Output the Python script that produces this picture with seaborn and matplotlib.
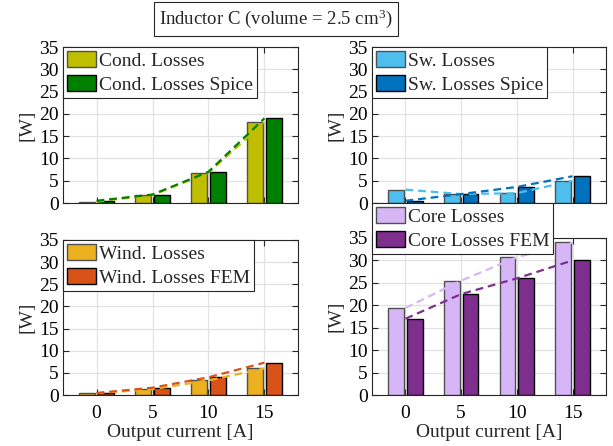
import numpy as np
import pandas as pd
import matplotlib
matplotlib.use("Agg")
import matplotlib.pyplot as plt
import seaborn as sns
from matplotlib.patches import Patch

# ---------------- data ----------------
currents = [0, 5, 10, 15]
xticks = [0, 5, 10, 15]
yticks = [0, 5, 10, 15, 20, 25, 30, 35]

cond_names = ["Cond. Losses", "Cond. Losses Spice"]
cond = [0.3, 1.8, 6.8, 18.1]
cond_spice = [0.5, 1.9, 7.0, 19.0]

sw_names = ["Sw. Losses", "Sw. Losses Spice"]
sw = [3.0, 2.0, 2.2, 5.0]
sw_spice = [0.5, 2.0, 3.6, 6.0]

wind_names = ["Wind. Losses", "Wind. Losses FEM"]
wind = [0.4, 1.3, 3.3, 6.0]
wind_fem = [0.45, 1.65, 4.0, 7.3]

core_names = ["Core Losses", "Core Losses FEM"]
core = [19.4, 25.5, 30.7, 34.0]
core_fem = [17.0, 22.5, 26.0, 30.0]

title_text = "Inductor C (volume = 2.5 cm$^{3}$)"
ylabel_text = "[W]"
xlabel_text = "Output current [A]"

# ---------------- style ----------------
sns.set_style("ticks")
plt.rcParams["font.family"] = ["Liberation Serif", "DejaVu Serif"]
plt.rcParams["mathtext.fontset"] = "custom"
plt.rcParams["mathtext.rm"] = "Liberation Serif"
plt.rcParams["mathtext.it"] = "Liberation Serif:italic"

W, H = 613, 446
fig = plt.figure(figsize=(W / 100, H / 100), dpi=100)


def rect(l, t, r, b):
    return [l / W, 1 - b / H, (r - l) / W, (b - t) / H]


panels = [
    dict(rect=rect(63, 47, 298, 203), names=cond_names, vals=[cond, cond_spice],
         colors=["#BFBF00", "#008000"], xlab=False, leg_y=1.0),
    dict(rect=rect(372, 47, 606, 203), names=sw_names, vals=[sw, sw_spice],
         colors=["#4DBEEE", "#0072BD"], xlab=False, leg_y=1.0),
    dict(rect=rect(63, 240, 298, 395), names=wind_names, vals=[wind, wind_fem],
         colors=["#EDB120", "#D95319"], xlab=True, leg_y=1.0),
    dict(rect=rect(372, 238, 606, 395), names=core_names, vals=[core, core_fem],
         colors=["#D7B6F7", "#7E2F8E"], xlab=True, leg_y=(395 - 203) / (395 - 238)),
]

edge_cols = ["#505050", "#000000"]

for i, p in enumerate(panels):
    ax = fig.add_axes(p["rect"])
    ax.set_zorder(1 + i)
    rows = []
    for name, vals in zip(p["names"], p["vals"]):
        for c, v in zip(currents, vals):
            rows.append({"I": c, "P": v, "s": name})
    df = pd.DataFrame(rows)

    sns.barplot(data=df, x="I", y="P", hue="s", hue_order=p["names"],
                palette=p["colors"], native_scale=True, width=0.67, gap=0.15,
                ax=ax, legend=False, saturation=1, linewidth=1.0, edgecolor="black")
    for cont, ec in zip(ax.containers, edge_cols):
        for patch in cont.patches:
            patch.set_edgecolor(ec)
    sns.lineplot(data=df, x="I", y="P", hue="s", hue_order=p["names"],
                 palette=p["colors"], ax=ax, legend=False, linestyle=(0, (3.5, 2.2)),
                 linewidth=1.6, zorder=3)

    ax.set_xlim(-3, 18)
    ax.set_ylim(0, 35)
    ax.set_xticks(xticks)
    ax.set_yticks(yticks)
    ax.grid(True, color="#e2e2e2", linewidth=0.9)
    ax.set_axisbelow(True)
    ax.tick_params(direction="in", length=4, width=0.8, top=True, right=True,
                   labelsize=14, colors="#262626", labelcolor="black")
    ax.tick_params(axis="x", pad=7.5)
    ax.tick_params(axis="y", pad=3)
    for sp in ax.spines.values():
        sp.set_visible(True)
        sp.set_color("#262626")
        sp.set_linewidth(0.8)
    ax.set_ylabel(ylabel_text, fontsize=14, labelpad=3)
    if p["xlab"]:
        ax.set_xlabel(xlabel_text, fontsize=14, labelpad=1)
    else:
        ax.set_xlabel("")
        ax.tick_params(labelbottom=False)

    handles = [Patch(facecolor=c, edgecolor=ec, linewidth=1.0)
               for c, ec in zip(p["colors"], edge_cols)]
    leg = ax.legend(handles, p["names"], loc="upper left",
                    bbox_to_anchor=(0, p["leg_y"]), borderaxespad=0,
                    fancybox=False, framealpha=1, edgecolor="#262626",
                    fontsize=14, handlelength=1.5, handleheight=0.88,
                    handletextpad=0.15, borderpad=0.2, labelspacing=0.3)
    leg.get_frame().set_linewidth(0.8)
    leg.set_zorder(10)

fig.text(276 / W, 1 - 19 / H, title_text, ha="center", va="center", fontsize=13.5,
         bbox=dict(boxstyle="square,pad=0.3", fc="white", ec="#262626", lw=0.8))

fig.savefig("out.png", dpi=100)
